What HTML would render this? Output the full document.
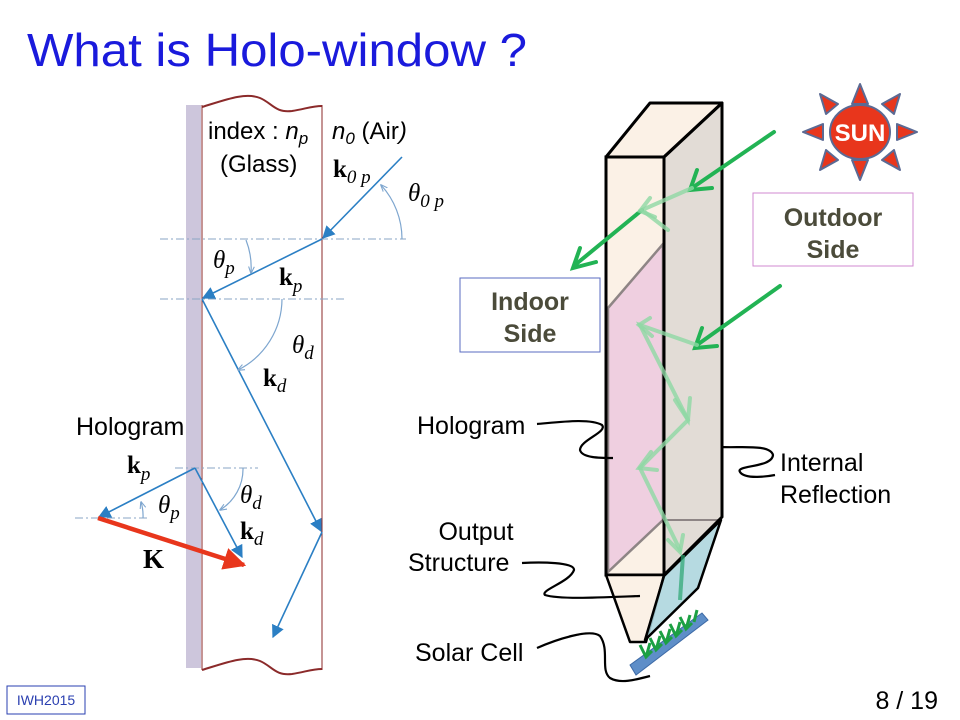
<!DOCTYPE html>
<html><head><meta charset="utf-8"><style>
body{margin:0;background:#fff;}
svg{display:block;font-family:"Liberation Sans",sans-serif;}
.m{font-family:"Liberation Serif",serif;}
</style></head><body>
<svg width="960" height="720" viewBox="0 0 960 720" xmlns="http://www.w3.org/2000/svg">
<defs>
<marker id="ab" viewBox="0 0 10 10" refX="9" refY="5" markerWidth="8" markerHeight="8" orient="auto-start-reverse"><path d="M0,0 L10,5 L0,10 z" fill="#2b7fc4"/></marker>
<marker id="ar" viewBox="0 0 10 10" refX="9" refY="5" markerWidth="5" markerHeight="5" orient="auto"><path d="M0,0 L10,5 L0,10 z" fill="#e8361c"/></marker>
<marker id="aa" viewBox="0 0 10 10" refX="9" refY="5" markerWidth="6" markerHeight="6" orient="auto"><path d="M0,1 L10,5 L0,9" fill="none" stroke="#7ea6cf" stroke-width="1.5"/></marker>
</defs>
<text x="27" y="66" font-size="46" fill="#1a1adc" textLength="500" lengthAdjust="spacingAndGlyphs">What is Holo-window ?</text>

<!-- left diagram -->
<rect x="186" y="105" width="15" height="563" fill="#cdc6dc"/>
<line x1="202" y1="105" x2="202" y2="670" stroke="#8b2a2a" stroke-width="1"/>
<line x1="322" y1="105" x2="322" y2="670" stroke="#8b2a2a" stroke-width="1"/>
<path d="M202,107 C225,100 245,92 260,98 C272,103 275,113 292,111 C305,109 312,106 322,106" fill="none" stroke="#8b2a2a" stroke-width="2"/>
<path d="M202,670 C225,663 245,655 260,661 C272,666 275,676 292,674 C305,672 312,669 322,669" fill="none" stroke="#8b2a2a" stroke-width="2"/>
<g stroke="#8aa6c4" stroke-width="1" stroke-dasharray="8,3,2,3">
<line x1="160" y1="239" x2="406" y2="239"/>
<line x1="160" y1="299" x2="346" y2="299"/>
<line x1="175" y1="468" x2="258" y2="468"/>
<line x1="75" y1="518" x2="148" y2="518"/>
</g>
<g stroke="#2b7fc4" stroke-width="1.6" fill="none">
<line x1="402" y1="157" x2="323" y2="238" marker-end="url(#ab)"/>
<line x1="322" y1="239" x2="203" y2="298" marker-end="url(#ab)"/>
<line x1="202" y1="299" x2="321" y2="531" marker-end="url(#ab)"/>
<line x1="322" y1="532" x2="273" y2="637" marker-end="url(#ab)"/>
<line x1="195" y1="468" x2="99" y2="517" marker-end="url(#ab)"/>
<line x1="195" y1="468" x2="242" y2="557" marker-end="url(#ab)"/>
</g>
<g stroke="#7ea6cf" stroke-width="1.2" fill="none">
<path d="M402,239 A80,80 0 0 0 381,185" marker-end="url(#aa)"/>
<path d="M246,240 A76,76 0 0 1 251,273" marker-end="url(#aa)"/>
<path d="M282,299 A80,80 0 0 1 238,370" marker-end="url(#aa)"/>
<path d="M143,518 A45,45 0 0 0 141,502" marker-end="url(#aa)"/>
<path d="M243,468 A48,48 0 0 1 220,510" marker-end="url(#aa)"/>
</g>
<line x1="98" y1="518" x2="244" y2="565" stroke="#e8361c" stroke-width="4.5" marker-end="url(#ar)"/>

<text x="208" y="139" font-size="24">index : <tspan font-style="italic">n</tspan><tspan font-style="italic" font-size="17" dy="5">p</tspan></text>
<text x="332" y="139" font-size="24" font-style="italic">n<tspan font-size="17" dy="5">0</tspan><tspan dy="-5" font-style="normal"> (Air</tspan>)</text>
<text x="220" y="172" font-size="24">(Glass)</text>
<text class="m" x="333" y="177" font-size="25" font-weight="bold">k<tspan font-weight="normal" font-style="italic" font-size="19" dy="6">0 p</tspan></text>
<text class="m" x="408" y="201" font-size="25" font-style="italic">θ<tspan font-size="19" dy="6">0 p</tspan></text>
<text class="m" x="213" y="268" font-size="25" font-style="italic">θ<tspan font-size="19" dy="6">p</tspan></text>
<text class="m" x="279" y="285" font-size="25" font-weight="bold">k<tspan font-weight="normal" font-style="italic" font-size="19" dy="7">p</tspan></text>
<text class="m" x="292" y="353" font-size="25" font-style="italic">θ<tspan font-size="19" dy="6">d</tspan></text>
<text class="m" x="263" y="386" font-size="25" font-weight="bold">k<tspan font-weight="normal" font-style="italic" font-size="19" dy="6">d</tspan></text>
<text x="76" y="435" font-size="25">Hologram</text>
<text class="m" x="127" y="473" font-size="25" font-weight="bold">k<tspan font-weight="normal" font-style="italic" font-size="19" dy="7">p</tspan></text>
<text class="m" x="158" y="513" font-size="25" font-style="italic">θ<tspan font-size="19" dy="6">p</tspan></text>
<text class="m" x="240" y="503" font-size="25" font-style="italic">θ<tspan font-size="19" dy="6">d</tspan></text>
<text class="m" x="240" y="539" font-size="25" font-weight="bold">k<tspan font-weight="normal" font-style="italic" font-size="19" dy="6">d</tspan></text>
<text class="m" x="143" y="568" font-size="27" font-weight="bold">K</text>

<!-- right diagram: box -->
<polygon points="664,157 722,103 722,517 664,575" fill="#e2dcd6"/>
<rect x="606" y="157" width="58" height="418" fill="#fbf1e6"/>
<polygon points="608,308 663,244 663,520 608,572" fill="#efcfe0" stroke="#8e8585" stroke-width="2.5"/>
<line x1="663" y1="520" x2="722" y2="520" stroke="#8e8585" stroke-width="2"/>
<polygon points="606,157 650,103 722,103 664,157" fill="#fbf1e6" stroke="#000" stroke-width="3" stroke-linejoin="round"/>
<rect x="606" y="157" width="58" height="418" fill="none" stroke="#000" stroke-width="3"/>
<polygon points="664,157 722,103 722,517 664,575" fill="none" stroke="#000" stroke-width="3" stroke-linejoin="round"/>
<polygon points="606,575 664,575 646,642 630,642" fill="#fbf1e6" stroke="#000" stroke-width="2.5" stroke-linejoin="round"/>
<polygon points="664,576 721,520 698,588 645,640" fill="#a9d3dc" fill-opacity="0.85" stroke="#000" stroke-width="2.5" stroke-linejoin="round"/>
<polygon points="630,665 702,613 708,620 636,675" fill="#5e8ec8" stroke="#3d6aa6" stroke-width="1"/>
<g stroke="#1ca043" stroke-width="3" fill="none">
<path d="M646,657 l4,-14 M656,650 l4,-14 M666,643 l4,-14 M676,636 l4,-14 M686,629 l4,-14 M694,622 l3,-12"/>
<path d="M640,645 l6,12 l6,-6 M650,638 l6,12 l6,-6 M660,631 l6,12 l6,-6 M670,624 l6,12 l6,-6 M680,617 l6,12 l6,-6"/>
</g>
<!-- green light -->
<g stroke="#22b354" stroke-width="4" fill="none" stroke-linecap="round">
<line x1="774" y1="132" x2="692" y2="188"/><path d="M697,170 L690,190 L712,188"/>
<line x1="642" y1="210" x2="575" y2="265"/><path d="M580,248 L573,268 L596,262"/>
<line x1="780" y1="286" x2="697" y2="345"/><path d="M702,328 L695,348 L717,346"/>
</g>
<g stroke="#8fd8a4" stroke-width="4" fill="none" stroke-linecap="round" stroke-opacity="0.8">
<polyline points="692,188 642,210 668,230"/>
<path d="M650,198 L640,211 L655,217"/>
<polyline points="697,345 640,325 688,420 640,468 680,550"/>
<path d="M650,318 L639,325 L652,336"/>
<path d="M675,400 L688,420 L690,398"/>
<path d="M651,452 L639,468 L657,470"/>
<path d="M668,540 L680,552 L683,535"/>
</g>
<line x1="683" y1="555" x2="680" y2="600" stroke="#2aa570" stroke-width="4" stroke-opacity="0.7"/>

<!-- labels right -->
<rect x="460" y="278" width="140" height="74" fill="#fff" stroke="#5a6bc0" stroke-width="1"/>
<text x="530" y="310" font-size="25" font-weight="bold" fill="#4b4b3a" text-anchor="middle">Indoor</text>
<text x="530" y="342" font-size="25" font-weight="bold" fill="#4b4b3a" text-anchor="middle">Side</text>
<rect x="753" y="193" width="160" height="73" fill="#fff" stroke="#d08ad0" stroke-width="1"/>
<text x="833" y="226" font-size="25" font-weight="bold" fill="#4b4b3a" text-anchor="middle">Outdoor</text>
<text x="833" y="258" font-size="25" font-weight="bold" fill="#4b4b3a" text-anchor="middle">Side</text>
<!-- sun -->
<g fill="#e8361c" stroke="#5b6a94" stroke-width="2" stroke-linejoin="round">
<polygon points="860,84 852,104 868,104"/>
<polygon points="860,180 852,160 868,160"/>
<polygon points="803,132 823,124 823,140"/>
<polygon points="917,132 897,124 897,140"/>
<polygon points="820,94 826,114 838,104"/>
<polygon points="900,94 894,114 882,104"/>
<polygon points="820,170 826,150 838,160"/>
<polygon points="900,170 894,150 882,160"/>
<ellipse cx="860" cy="132" rx="30" ry="27"/>
</g>
<text x="860" y="141" font-size="24" font-weight="bold" fill="#fff" text-anchor="middle">SUN</text>

<g stroke="#000" stroke-width="2.2" fill="none">
<path d="M537,424 C560,422 590,418 602,425 C608,432 580,440 580,450 C582,458 600,458 613,458"/>
<path d="M722,447 C740,448 770,444 773,455 C772,468 735,465 740,472 C745,480 770,476 775,475"/>
<path d="M522,563 C540,562 575,562 574,570 C570,582 540,590 545,595 C560,600 610,597 640,596"/>
<path d="M537,648 C555,640 590,628 600,636 C610,650 600,670 610,678 C620,684 635,680 650,676"/>
</g>
<text x="417" y="434" font-size="25">Hologram</text>
<text x="780" y="471" font-size="25">Internal</text>
<text x="780" y="503" font-size="25">Reflection</text>
<text x="476" y="540" font-size="25" text-anchor="middle">Output</text>
<text x="408" y="571" font-size="25">Structure</text>
<text x="415" y="661" font-size="25">Solar Cell</text>

<rect x="7" y="686" width="78" height="28" fill="#fff" stroke="#2a3fb0" stroke-width="1"/>
<text x="46" y="705" font-size="14" fill="#2a3fb0" text-anchor="middle">IWH2015</text>
<text x="938" y="709" font-size="25" text-anchor="end">8 / 19</text>
</svg>
</body></html>
